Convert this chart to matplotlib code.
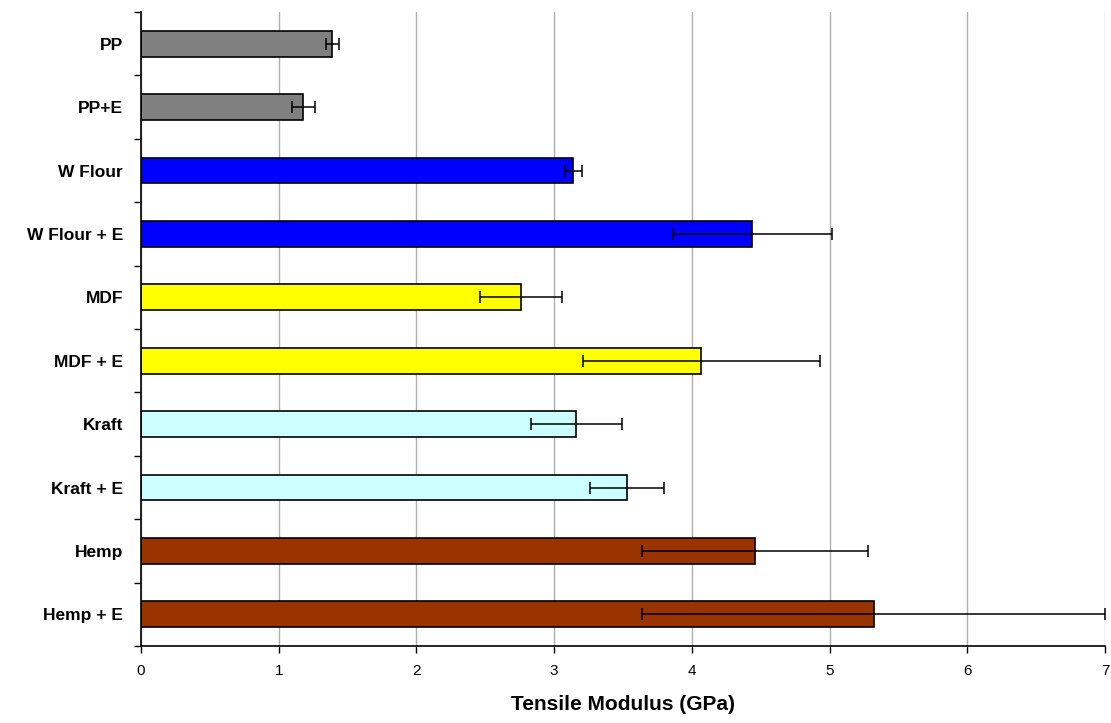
import numpy as np
import matplotlib.pyplot as plt
from matplotlib.ticker import FixedLocator, NullFormatter

labels = ['PP', 'PP+E', 'W Flour', 'W Flour + E', 'MDF', 'MDF + E',
          'Kraft', 'Kraft + E', 'Hemp', 'Hemp + E']
modulus = [1.39, 1.18, 3.14, 4.44, 2.76, 4.07, 3.16, 3.53, 4.46, 5.32]
errors = [0.05, 0.08, 0.06, 0.58, 0.30, 0.86, 0.33, 0.27, 0.82, 1.68]
colors = ['#808080', '#808080', '#0000FF', '#0000FF', '#FFFF00', '#FFFF00',
          '#CCFFFF', '#CCFFFF', '#993300', '#993300']

plt.rcParams['font.family'] = ['Liberation Sans', 'DejaVu Sans']

fig = plt.figure(figsize=(11.11, 7.23), dpi=100)
ax = fig.add_axes([0.1269, 0.1065, 0.8677, 0.8769])

y = np.arange(len(labels))
ax.barh(y, modulus, height=0.41, color=colors, edgecolor='black', linewidth=1.2, zorder=2)
ax.errorbar(modulus, y, xerr=errors, fmt='none', ecolor='black', elinewidth=1.1,
            capsize=4, capthick=1.1, zorder=3)

ax.set_xlim(0, 7)
ax.set_ylim(len(labels) - 0.5, -0.5)
ax.set_xticks(range(8))
ax.tick_params(axis='x', labelsize=11, length=5, width=1, pad=8)

# category labels in the middle, tick marks on the boundaries
ax.yaxis.set_major_locator(FixedLocator(np.arange(-0.5, len(labels), 1)))
ax.yaxis.set_major_formatter(NullFormatter())
ax.yaxis.set_minor_locator(FixedLocator(y))
ax.set_yticklabels(labels, minor=True, fontsize=12.5, fontweight='bold')
ax.tick_params(axis='y', which='major', length=5, width=1)
ax.tick_params(axis='y', which='minor', length=0, pad=13)

ax.grid(axis='x', color='#b0b0b0', linewidth=1, zorder=0)
ax.set_axisbelow(True)
ax.spines['top'].set_visible(False)
ax.spines['right'].set_visible(False)
ax.spines['left'].set_linewidth(1.2)
ax.spines['bottom'].set_linewidth(1.2)

ax.set_xlabel('Tensile Modulus (GPa)', fontsize=15, fontweight='bold', labelpad=12)

fig.savefig('out.png', dpi=100)
